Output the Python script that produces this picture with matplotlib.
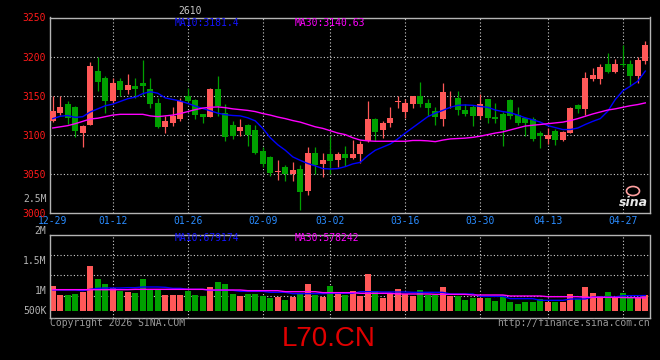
import matplotlib
matplotlib.use("Agg")
import matplotlib.pyplot as plt
from matplotlib.patches import Ellipse
import numpy as np

# ---------------- data ----------------
dates = ["12-29", "12-30", "12-31",
         "01-05", "01-06", "01-07", "01-08", "01-09",
         "01-12", "01-13", "01-14", "01-15", "01-16",
         "01-19", "01-20", "01-21", "01-22", "01-23",
         "01-26", "01-27", "01-28", "01-29", "01-30",
         "02-02", "02-03", "02-04", "02-05", "02-06",
         "02-09", "02-10", "02-11", "02-12", "02-13",
         "02-24", "02-25", "02-26", "02-27",
         "03-02", "03-03", "03-04", "03-05", "03-06",
         "03-09", "03-10", "03-11", "03-12", "03-13",
         "03-16", "03-17", "03-18", "03-19", "03-20",
         "03-23", "03-24", "03-25", "03-26", "03-27",
         "03-30", "03-31", "04-01", "04-02", "04-03",
         "04-07", "04-08", "04-09", "04-10",
         "04-13", "04-14", "04-15", "04-16", "04-17",
         "04-20", "04-21", "04-22", "04-23", "04-24",
         "04-27", "04-28", "04-29", "04-30"]

opens = [3118, 3128, 3139, 3135, 3102, 3112, 3181, 3173, 3143, 3169,
         3157, 3162, 3166, 3158, 3140, 3110, 3115, 3120, 3150, 3144,
         3126, 3123, 3158, 3128, 3112, 3105, 3112, 3106, 3079, 3071,
         3052, 3058, 3050, 3056, 3028, 3076, 3062, 3075, 3068, 3075,
         3070, 3075, 3092, 3120, 3106, 3115, 3142, 3129, 3139, 3150,
         3140, 3130, 3120, 3145, 3147, 3132, 3135, 3124, 3145, 3122,
         3127, 3144, 3125, 3121, 3120, 3102, 3095, 3105, 3093, 3102,
         3138, 3133, 3171, 3171, 3190, 3180, 3191, 3191, 3175, 3194]
highs = [3150, 3150, 3143, 3137, 3112, 3193, 3200, 3175, 3172, 3173,
         3177, 3172, 3195, 3172, 3147, 3124, 3135, 3147, 3160, 3146,
         3127, 3160, 3175, 3139, 3118, 3120, 3113, 3112, 3084, 3073,
         3068, 3061, 3065, 3061, 3084, 3084, 3076, 3098, 3078, 3085,
         3093, 3092, 3143, 3121, 3118, 3136, 3150, 3146, 3150, 3168,
         3145, 3136, 3166, 3156, 3156, 3139, 3138, 3152, 3146, 3141,
         3129, 3146, 3135, 3123, 3122, 3105, 3109, 3107, 3105, 3136,
         3139, 3180, 3185, 3190, 3204, 3197, 3215, 3196, 3199, 3220]
lows = [3116, 3125, 3113, 3097, 3084, 3112, 3156, 3128, 3141, 3150,
        3152, 3147, 3150, 3134, 3109, 3102, 3111, 3118, 3142, 3120,
        3115, 3122, 3124, 3092, 3094, 3098, 3086, 3075, 3059, 3047,
        3042, 3041, 3041, 3004, 3023, 3049, 3046, 3049, 3058, 3060,
        3069, 3064, 3090, 3092, 3096, 3110, 3134, 3121, 3134, 3135,
        3124, 3112, 3111, 3134, 3125, 3124, 3111, 3120, 3115, 3115,
        3086, 3120, 3112, 3098, 3092, 3083, 3088, 3087, 3092, 3102,
        3128, 3125, 3169, 3165, 3179, 3179, 3186, 3162, 3166, 3190]
closes = [3130, 3135, 3121, 3104, 3111, 3188, 3168, 3143, 3166, 3157,
          3163, 3159, 3162, 3139, 3110, 3118, 3124, 3143, 3143, 3125,
          3123, 3158, 3137, 3097, 3098, 3110, 3100, 3077, 3063, 3051,
          3054, 3050, 3055, 3027, 3076, 3061, 3068, 3066, 3075, 3070,
          3075, 3088, 3120, 3103, 3115, 3121, 3143, 3140, 3150, 3139,
          3134, 3123, 3155, 3146, 3132, 3127, 3124, 3139, 3121, 3120,
          3106, 3124, 3115, 3115, 3095, 3098, 3100, 3093, 3103, 3134,
          3133, 3172, 3176, 3187, 3180, 3191, 3189, 3175, 3195, 3215]

ma10 = [3120.5, 3123.5, 3124.5, 3122, 3123, 3129, 3133, 3137, 3139, 3142.5,
        3146, 3148, 3152.5, 3155, 3153, 3147, 3145, 3143, 3140, 3136.5,
        3133.5, 3130.5, 3127.5, 3125.5, 3124.5, 3124, 3121.5, 3117.6, 3108, 3096,
        3087, 3080, 3071.5, 3067, 3063, 3060, 3056.5, 3056, 3056.5, 3059,
        3062.5, 3064.5, 3073, 3080, 3084, 3088, 3094.5, 3102, 3109, 3116,
        3123, 3127.5, 3131, 3135, 3137.5, 3138, 3137.5, 3136, 3135, 3131.5,
        3129.5, 3128, 3125, 3121.5, 3119, 3116, 3111.5, 3109, 3106.5, 3106.5,
        3108.5, 3113, 3117, 3120.5, 3130, 3145, 3156, 3162, 3168.5, 3181.4]
ma30 = [3108.5, 3110, 3111.5, 3114, 3117, 3120, 3121, 3123, 3125, 3126,
        3126, 3126, 3126, 3124, 3123, 3124, 3125, 3127, 3129.5, 3132,
        3134, 3135, 3135.5, 3134.5, 3133, 3132, 3131, 3129.5, 3127, 3125,
        3122.5, 3120.5, 3118, 3116, 3113, 3110, 3108, 3105, 3102, 3100,
        3096, 3093, 3092, 3091.5, 3091.5, 3091.5, 3091.5, 3091.5, 3092.5, 3092.5,
        3092, 3091, 3093, 3094.5, 3095, 3095.5, 3096.5, 3098, 3100, 3102,
        3103.5, 3106, 3108.5, 3111, 3112, 3113, 3114, 3115, 3116, 3118,
        3120.5, 3123.5, 3126.5, 3129, 3131.5, 3133, 3135, 3137, 3138.5, 3140.63]

volumes = [1108000, 704000, 704000, 734000, 853000, 2004000, 1422000, 1197000, 1033000, 898000,
           853000, 809000, 1422000, 928000, 928000, 704000, 704000, 704000, 883000, 704000,
           659000, 1063000, 1287000, 1197000, 749000, 674000, 749000, 749000, 674000, 584000,
           629000, 480000, 629000, 809000, 1197000, 704000, 629000, 1108000, 839000, 704000,
           883000, 674000, 1646000, 883000, 584000, 764000, 973000, 734000, 674000, 928000,
           704000, 704000, 1063000, 674000, 674000, 495000, 584000, 584000, 555000, 450000,
           704000, 405000, 301000, 405000, 405000, 525000, 405000, 405000, 405000, 749000,
           525000, 1063000, 794000, 674000, 839000, 629000, 794000, 629000, 629000, 704000]
vol_ma10 = [928000, 928000, 928000, 928000, 898000, 958000, 1003000, 1018000, 1018000, 1018000,
            1033000, 1033000, 1063000, 1063000, 1063000, 1048000, 1003000, 1003000, 958000, 958000,
            958000, 913000, 913000, 913000, 913000, 868000, 868000, 868000, 868000, 824000,
            824000, 824000, 764000, 764000, 764000, 764000, 764000, 779000, 779000, 779000,
            779000, 853000, 853000, 853000, 839000, 839000, 839000, 839000, 824000, 824000,
            824000, 824000, 824000, 749000, 749000, 749000, 749000, 644000, 644000, 644000,
            644000, 540000, 540000, 540000, 540000, 465000, 465000, 465000, 465000, 525000,
            525000, 525000, 614000, 614000, 614000, 614000, 674000, 674000, 674000, 679174]
vol_ma30 = [943000, 943000, 943000, 943000, 943000, 943000, 943000, 943000, 943000, 943000,
            943000, 958000, 958000, 958000, 958000, 958000, 958000, 958000, 958000, 958000,
            958000, 928000, 928000, 928000, 928000, 928000, 898000, 898000, 898000, 898000,
            898000, 853000, 853000, 853000, 853000, 853000, 809000, 809000, 809000, 809000,
            809000, 779000, 779000, 779000, 779000, 779000, 749000, 749000, 749000, 749000,
            749000, 734000, 734000, 734000, 734000, 734000, 704000, 704000, 704000, 704000,
            704000, 659000, 659000, 659000, 659000, 659000, 629000, 629000, 629000, 629000,
            629000, 599000, 599000, 599000, 599000, 599000, 590000, 585000, 580000, 578242]

price_ticks = [3000, 3050, 3100, 3150, 3200, 3250]
date_tick_idx = [0, 8, 18, 28, 37, 47, 57, 66, 76]
vol_tick_labels = ["2M", "1.5M", "1M", "500K"]
title = "2610"

# ---------------- style ----------------
W, H = 660, 360
BG = "black"
RED = "#ff5858"
GREEN = "#00a000"
GRID = "#d0d0d0"
FRAME = "#b4b4b4"
MONO = "DejaVu Sans Mono"
FS = 7


def fx(px):
    return px / W


def fy(py):
    return 1 - py / H


fig = plt.figure(figsize=(6.6, 3.6), dpi=100, facecolor=BG)

x = np.arange(len(dates))
o = np.array(opens, float)
c = np.array(closes, float)
hi = np.array(highs, float)
lo = np.array(lows, float)
up = c >= o
cols = np.where(up, RED, GREEN)
xl = (-0.37, 79.56)

# price panel
axp = fig.add_axes([fx(50), fy(212.7), fx(649.5) - fx(50), fy(17.5) - fy(212.7)], facecolor=BG)
axp.set_xlim(*xl)
axp.set_ylim(3000, 3250)
for yv in price_ticks[1:-1]:
    axp.axhline(yv, color=GRID, lw=0.8, ls=(0, (1, 2)), zorder=0)
for i in date_tick_idx[1:]:
    axp.axvline(i, color=GRID, lw=0.8, ls=(0, (1, 2)), zorder=0)

axp.vlines(x, lo, hi, colors=cols, lw=0.9, zorder=2)
body_h = np.maximum(np.abs(c - o), 1.0)
axp.bar(x, body_h, bottom=np.minimum(o, c), width=0.78, color=cols, zorder=3, linewidth=0)
axp.plot(x, ma10, color="#0000ff", lw=1.0, zorder=4)
axp.plot(x, ma30, color="#ff00ff", lw=1.0, zorder=4)

axp.set_yticks(price_ticks)
axp.set_yticklabels([str(t) for t in price_ticks], color="#ff1a1a", fontsize=FS, family=MONO)
axp.set_xticks(date_tick_idx)
axp.set_xticklabels([dates[i] for i in date_tick_idx], color="#2a8cff", fontsize=FS, family=MONO)
axp.tick_params(axis="both", length=0)
axp.tick_params(axis="y", pad=3)
axp.tick_params(axis="x", pad=2.5)
for s in axp.spines.values():
    s.set_color(FRAME)
    s.set_linewidth(1)
axp.spines["top"].set_linestyle((0, (1, 1)))

# volume panel
axv = fig.add_axes([fx(50), fy(318.3), fx(649.5) - fx(50), fy(234.7) - fy(318.3)], facecolor=BG)
axv.set_xlim(*xl)
axv.set_ylim(-341000, 3408000)
for f in (0.270, 0.514, 0.757):
    axv.plot([0, 1], [f, f], transform=axv.transAxes, color=GRID, lw=0.8, ls=(0, (1, 2)), zorder=0)
for i in date_tick_idx[1:]:
    axv.axvline(i, color=GRID, lw=0.8, ls=(0, (1, 2)), zorder=0)
axv.bar(x, volumes, width=0.8, color=cols, linewidth=0, zorder=2)
axv.plot(x, vol_ma10, color="#0000ff", lw=1.0, zorder=3)
axv.plot(x, vol_ma30, color="#ff00ff", lw=1.0, zorder=3)
axv.set_xticks([])
axv.set_yticks([])
for s in axv.spines.values():
    s.set_color(FRAME)
    s.set_linewidth(1)
axv.spines["top"].set_linestyle((0, (1, 1)))

# texts
txt = dict(fontsize=FS, family=MONO, va="center")
fig.text(fx(190), fy(10.5), title, color="#c8c8c8", ha="center", **txt)
fig.text(fx(175), fy(23.3), f"MA10:{ma10[-1]:.1f}", color="#1414ff", ha="left", **txt)
fig.text(fx(295), fy(23.3), f"MA30:{ma30[-1]:.2f}", color="#ff00ff", ha="left", **txt)
fig.text(fx(175), fy(238.3), f"MA10:{vol_ma10[-1]}", color="#1414ff", ha="left", **txt)
fig.text(fx(295), fy(238.3), f"MA30:{vol_ma30[-1]}", color="#ff00ff", ha="left", **txt)

fig.text(fx(46.5), fy(199.5), "2.5M", color="#b4b4b4", ha="right", **txt)
for lab, py in zip(vol_tick_labels, (230.7, 260.7, 290.7, 310.7)):
    fig.text(fx(46.5), fy(py), lab, color="#b4b4b4", ha="right", **txt)

fig.text(fx(50), fy(323.5), "Copyright 2026 SINA.COM", color="#9a9a9a", ha="left", **txt)
fig.text(fx(649.5), fy(323.5), "http://finance.sina.com.cn", color="#9a9a9a", ha="right", **txt)

fig.text(fx(329), fy(339.5), "L70.CN", color="#e00000", fontsize=20,
         family="Liberation Sans", ha="center", va="center")

# sina logo
fig.patches.append(Ellipse((fx(633), fy(191)), fx(13), 9 / H, transform=fig.transFigure,
                           facecolor="none", edgecolor="#ffa0a0", lw=1.2))
fig.text(fx(633), fy(203), "sina", color="#e6e6e6", fontsize=9, style="italic",
         weight="bold", family="DejaVu Sans", ha="center", va="center")

fig.savefig("out.png", dpi=100, facecolor=BG)
